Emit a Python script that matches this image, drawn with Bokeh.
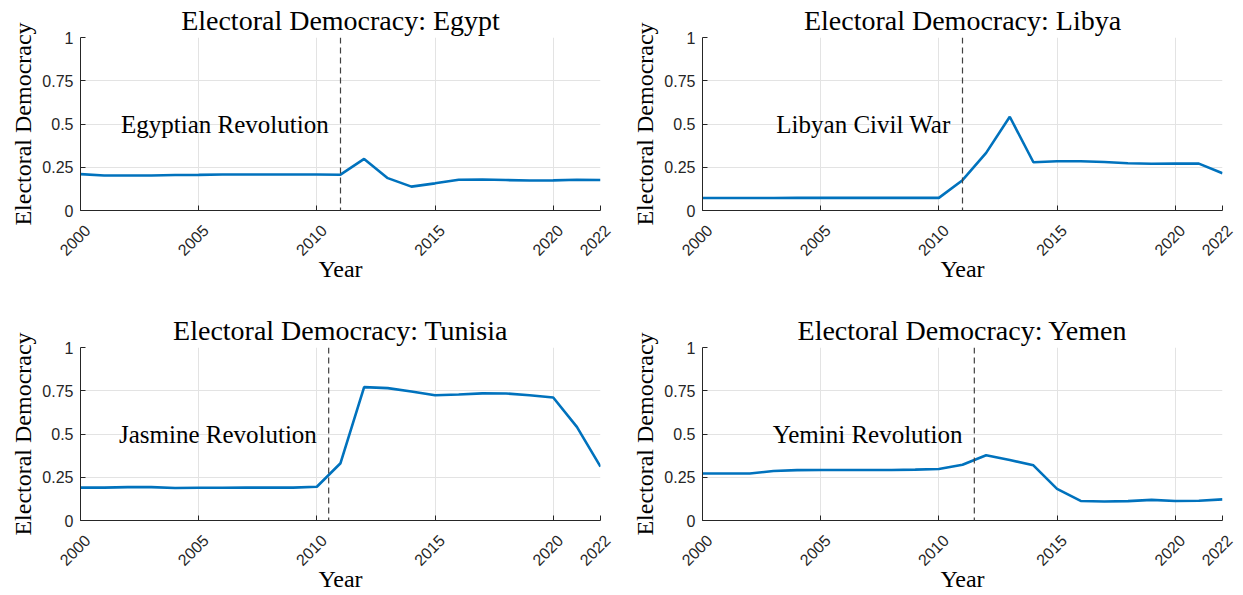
import math
from bokeh.plotting import figure
from bokeh.layouts import column, row
from bokeh.models import (FixedTicker, NumeralTickFormatter, Span, Range1d, ColumnDataSource,
                          Label, Title)
from bokeh.embed import file_html
from bokeh.resources import INLINE

years = list(range(2000, 2023))

egypt = [0.210, 0.202, 0.202, 0.202, 0.205, 0.206, 0.208, 0.208, 0.208, 0.208, 0.208, 0.207,
         0.298, 0.187, 0.138, 0.157, 0.178, 0.179, 0.176, 0.173, 0.174, 0.178, 0.176]
libya = [0.072, 0.072, 0.072, 0.072, 0.073, 0.073, 0.073, 0.073, 0.073, 0.073, 0.073, 0.175,
         0.333, 0.542, 0.279, 0.285, 0.285, 0.280, 0.273, 0.270, 0.271, 0.271, 0.215]
tunisia = [0.190, 0.190, 0.193, 0.193, 0.188, 0.189, 0.189, 0.190, 0.190, 0.190, 0.195, 0.331,
           0.771, 0.765, 0.746, 0.724, 0.728, 0.735, 0.734, 0.724, 0.711, 0.541, 0.311]
yemen = [0.272, 0.272, 0.272, 0.286, 0.291, 0.292, 0.292, 0.292, 0.292, 0.294, 0.298, 0.322,
         0.377, 0.350, 0.319, 0.183, 0.113, 0.110, 0.112, 0.119, 0.113, 0.114, 0.122]

countries = ["Egypt", "Libya", "Tunisia", "Yemen"]
series = [egypt, libya, tunisia, yemen]
event_years = [2011, 2011, 2010.5, 2011.5]
event_labels = ["Egyptian Revolution", "Libyan Civil War", "Jasmine Revolution", "Yemini Revolution"]

x_ticks = [2000, 2005, 2010, 2015, 2020, 2022]
x_tick_labels = ["2000", "2005", "2010", "2015", "2020", "2022"]
y_ticks = [0, 0.25, 0.5, 0.75, 1]

SERIF = "Liberation Serif"
SANS = "Liberation Sans"
LINE_COLOR = "#0072BD"
AXIS_COLOR = "#262626"
FRAME_W = 520
FRAME_H = 173


def make_panel(i, width, height, left_border, top_border):
    x0, x1 = x_ticks[0], x_ticks[-1]
    p = figure(width=width, height=height, output_backend="svg", toolbar_location=None,
               x_range=Range1d(x0, x1), y_range=Range1d(0, 1),
               min_border_left=left_border, min_border_right=width - left_border - FRAME_W,
               min_border_top=top_border, min_border_bottom=height - top_border - FRAME_H)
    p.outline_line_color = None
    p.background_fill_color = "white"
    p.border_fill_color = "white"

    t = Title(text="Electoral Democracy: " + countries[i], align="center",
              text_font=SERIF, text_font_size="28px", text_font_style="normal",
              text_color="#000000", standoff=4)
    p.add_layout(t, "above")

    p.xaxis.ticker = FixedTicker(ticks=x_ticks)
    p.yaxis.ticker = FixedTicker(ticks=y_ticks)
    p.yaxis.formatter = NumeralTickFormatter(format="0.[00]")
    for ax in (p.xaxis[0], p.yaxis[0]):
        ax.axis_line_color = AXIS_COLOR
        ax.axis_line_width = 1
        ax.major_tick_in = 5
        ax.major_tick_out = 0
        ax.minor_tick_line_color = None
        ax.major_tick_line_color = AXIS_COLOR
        ax.major_label_text_font = SANS
        ax.major_label_text_font_size = "16px"
        ax.major_label_text_color = AXIS_COLOR
        ax.axis_label_text_font = SERIF
        ax.axis_label_text_font_size = "24px"
        ax.axis_label_text_font_style = "normal"
        ax.axis_label_text_color = "#000000"
    p.yaxis.axis_label = "Electoral Democracy"
    p.yaxis.major_label_standoff = 7
    p.yaxis.axis_label_standoff = 3

    # rotated year labels; the leading empty line makes each label hang
    # just below-right of its tick, as in the reference
    p.xaxis.major_label_orientation = math.pi / 4
    p.xaxis.major_label_overrides = {t_: "\n" + s for t_, s in zip(x_ticks, x_tick_labels)}
    p.xaxis.major_label_standoff = 10
    p.xaxis.axis_label = "Year"
    p.xaxis.axis_label_standoff = -19

    p.grid.grid_line_color = "#e3e3e3"
    p.grid.grid_line_width = 1

    src = ColumnDataSource(dict(x=years, y=series[i]))
    p.line("x", "y", source=src, line_color=LINE_COLOR, line_width=2.6)

    p.add_layout(Span(location=event_years[i], dimension="height", line_color="#404040",
                      line_width=1.2, line_dash="6 4"))
    p.add_layout(Label(x=event_years[i] - 0.5, y=0.5, text=event_labels[i],
                       text_align="right", text_baseline="middle",
                       text_font=SERIF, text_font_size="25px", text_color="#000000"))
    return p


p1 = make_panel(0, 621, 310, 80, 37)
p2 = make_panel(1, 622, 310, 81, 37)
p3 = make_panel(2, 621, 285, 80, 37)
p4 = make_panel(3, 622, 285, 81, 37)

layout = column(row(p1, p2), row(p3, p4))
open("out.html", "w").write(file_html(layout, INLINE))
